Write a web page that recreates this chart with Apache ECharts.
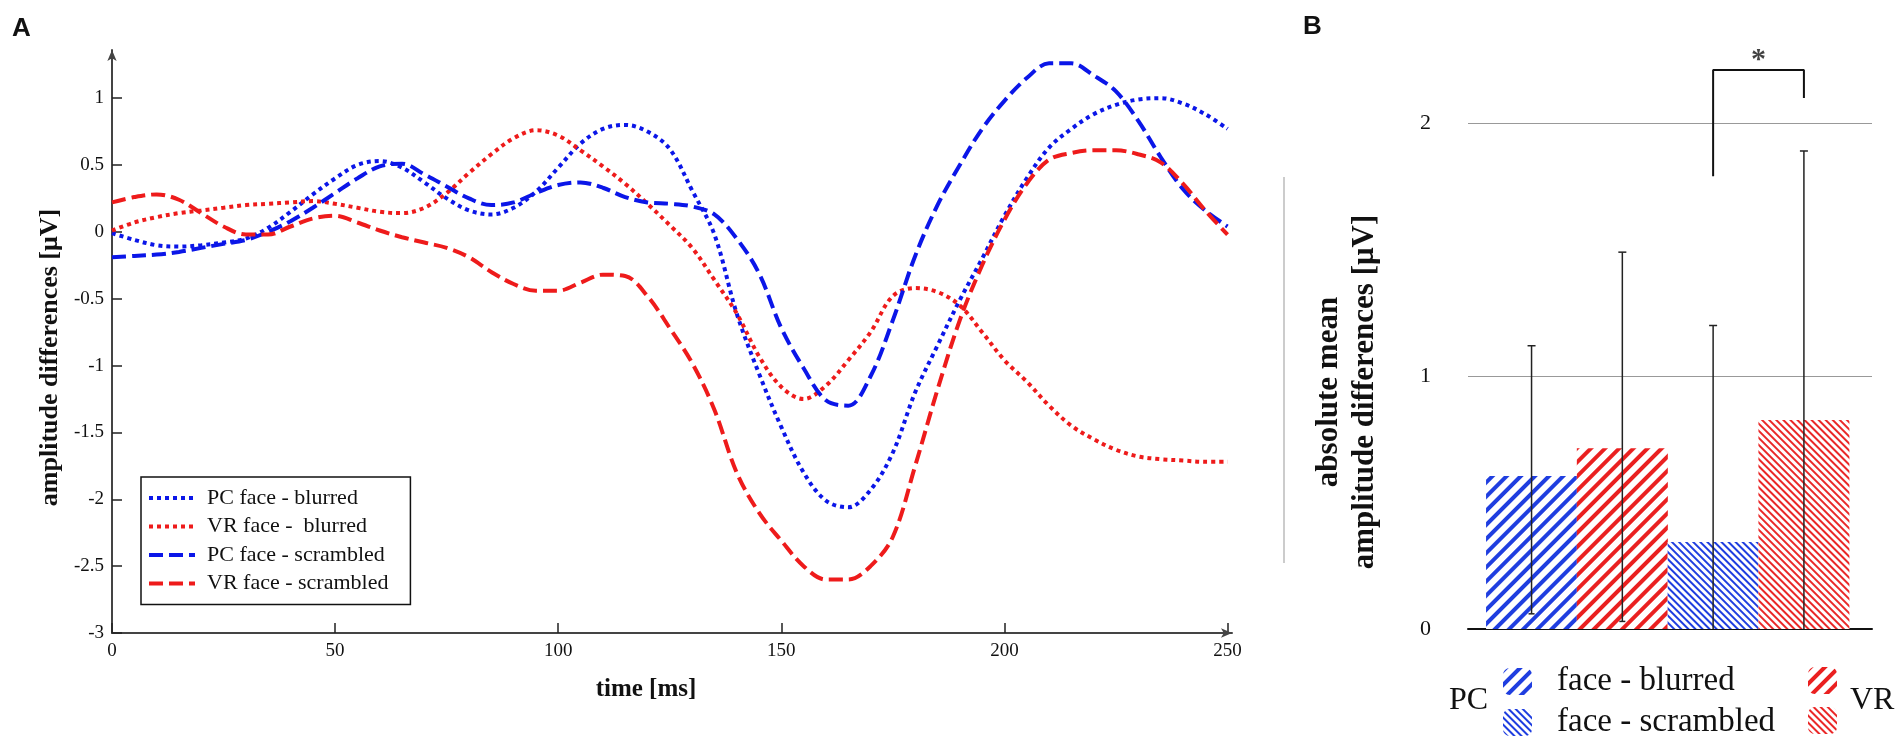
<!DOCTYPE html>
<html>
<head>
<meta charset="utf-8">
<title>ERP amplitude differences</title>
<script src="https://cdn.jsdelivr.net/npm/echarts@6/dist/echarts.min.js"></script>
<style>
html, body { margin: 0; padding: 0; background: #fff; }
#chart { width: 1904px; height: 746px; }
</style>
</head>
<body>
<div id="chart"></div>
<script>
// panel A: difference waves, one value every 5 ms
var timeMs = [0,5,10,15,20,25,30,35,40,45,50,55,60,65,70,75,80,85,90,95,100,105,110,115,120,125,
	130,135,140,145,150,155,160,165,170,175,180,185,190,195,200,205,210,215,220,225,230,235,240,245,250];
var pcBlurred = [-0.01,-0.06,-0.10,-0.11,-0.10,-0.08,-0.05,0.03,0.15,0.28,0.40,0.50,0.53,0.48,0.37,0.25,0.16,0.13,0.18,0.30,
	0.48,0.66,0.77,0.80,0.75,0.62,0.31,-0.02,-0.61,-1.06,-1.46,-1.80,-2.01,-2.06,-1.93,-1.65,-1.20,-0.85,-0.51,-0.20,
	0.12,0.40,0.63,0.77,0.88,0.95,0.99,1.00,0.96,0.88,0.77];
var vrBlurred = [0.01,0.07,0.11,0.14,0.16,0.18,0.20,0.21,0.22,0.23,0.21,0.18,0.15,0.14,0.18,0.29,0.44,0.58,0.70,0.76,
	0.72,0.61,0.49,0.36,0.21,0.05,-0.12,-0.36,-0.61,-0.93,-1.16,-1.25,-1.15,-0.96,-0.75,-0.48,-0.42,-0.45,-0.55,-0.75,
	-0.96,-1.12,-1.30,-1.45,-1.55,-1.63,-1.68,-1.70,-1.71,-1.72,-1.72];
var pcScrambled = [-0.19,-0.18,-0.17,-0.15,-0.12,-0.09,-0.06,0.00,0.08,0.18,0.29,0.40,0.49,0.51,0.43,0.34,0.25,0.20,0.22,0.29,
	0.35,0.37,0.33,0.26,0.22,0.21,0.19,0.13,-0.05,-0.31,-0.72,-1.02,-1.26,-1.30,-1.08,-0.66,-0.18,0.20,0.50,0.77,
	0.98,1.15,1.26,1.26,1.17,1.05,0.83,0.56,0.32,0.16,0.04];
var vrScrambled = [0.22,0.26,0.28,0.24,0.14,0.04,-0.02,-0.02,0.04,0.10,0.12,0.07,0.01,-0.04,-0.08,-0.12,-0.19,-0.30,-0.39,-0.44,
	-0.44,-0.38,-0.32,-0.33,-0.48,-0.72,-0.98,-1.33,-1.80,-2.10,-2.31,-2.50,-2.60,-2.60,-2.50,-2.28,-1.75,-1.18,-0.66,-0.25,
	0.09,0.36,0.54,0.59,0.61,0.61,0.58,0.52,0.36,0.16,-0.02];
var waveNames = ['PC face - blurred', 'VR face -  blurred', 'PC face - scrambled', 'VR face - scrambled'];
var timeTicks = [0,50,100,150,200,250];
var ampTicks = [-3,-2.5,-2,-1.5,-1,-0.5,0,0.5,1];

// panel B: absolute mean amplitude differences
var barNames = ['B PC face - blurred', 'B VR face - blurred', 'B PC face - scrambled', 'B VR face - scrambled'];
var barPos = [1, 2, 3, 4];
var barMeans = [0.605, 0.715, 0.344, 0.826];
var errLow = [0.06, 0.03, 0, 0];
var errHigh = [1.12, 1.49, 1.20, 1.89];
var bracketX = [3, 3, 4, 4];
var bracketY = [1.79, 2.21, 2.21, 2.10];
var starAt = [3.5, 2.25];

var BLUE = '#0b16e8';
var RED = '#ee1b1b';
var SERIF = 'Liberation Serif';

var myChart = echarts.init(document.getElementById('chart'));

function zip(xs, ys) {
	var out = [];
	for (var i = 0; i < xs.length; i++) out.push([xs[i], ys[i]]);
	return out;
}

var waveData = [pcBlurred, vrBlurred, pcScrambled, vrScrambled];
var waveColors = [BLUE, RED, BLUE, RED];
var waveDash = [[4, 4], [4, 4], [14, 6], [14, 6]];

var series = [];
for (var i = 0; i < waveData.length; i++) {
	series.push({
		type: 'line',
		name: waveNames[i],
		xAxisIndex: 0,
		yAxisIndex: 0,
		data: zip(timeMs, waveData[i]),
		smooth: 0.35,
		symbol: 'none',
		showSymbol: false,
		lineStyle: { color: waveColors[i], width: 4, type: waveDash[i], cap: 'butt' },
		itemStyle: { color: waveColors[i] },
		z: 3
	});
}

// hatch patterns for the bars
var barDecals = [
	{ color: '#1f3ee0', dashArrayY: [4, 6], rotation: -Math.PI / 4 },
	{ color: '#ea2020', dashArrayY: [4, 6], rotation: -Math.PI / 4 },
	{ color: '#1f3ee0', dashArrayY: [2, 3], rotation: Math.PI / 4 },
	{ color: '#ea2828', dashArrayY: [2, 3], rotation: Math.PI / 4 }
];
for (var j = 0; j < barNames.length; j++) {
	series.push({
		type: 'bar',
		name: barNames[j],
		xAxisIndex: 1,
		yAxisIndex: 1,
		data: [[barPos[j], barMeans[j]]],
		barWidth: 91,
		barGap: '-100%',
		itemStyle: {
			color: '#ffffff',
			decal: {
				symbol: 'rect',
				symbolSize: 1,
				color: barDecals[j].color,
				dashArrayX: [1, 0],
				dashArrayY: barDecals[j].dashArrayY,
				rotation: barDecals[j].rotation
			}
		},
		z: 2
	});
}

// error bars
var errData = [];
for (var k = 0; k < barPos.length; k++) errData.push([barPos[k], errLow[k], errHigh[k]]);
series.push({
	type: 'custom',
	name: 'sd',
	xAxisIndex: 1,
	yAxisIndex: 1,
	data: errData,
	encode: { x: 0, y: [1, 2] },
	silent: true,
	z: 4,
	renderItem: function(params, api) {
		var x = api.value(0);
		var lo = api.value(1);
		var top = api.coord([x, api.value(2)]);
		var bot = api.coord([x, lo]);
		var st = { stroke: '#222', lineWidth: 1.5 };
		var kids = [
			{ type: 'line', shape: { x1: top[0], y1: top[1], x2: bot[0], y2: bot[1] }, style: st },
			{ type: 'line', shape: { x1: top[0] - 4, y1: top[1], x2: top[0] + 4, y2: top[1] }, style: st }
		];
		if (lo > 0) {
			kids.push({ type: 'line', shape: { x1: bot[0] - 3, y1: bot[1], x2: bot[0] + 3, y2: bot[1] }, style: st });
		}
		return { type: 'group', children: kids };
	}
});

// significance bracket
series.push({
	type: 'line',
	name: 'bracket',
	xAxisIndex: 1,
	yAxisIndex: 1,
	data: zip(bracketX, bracketY),
	symbol: 'none',
	silent: true,
	lineStyle: { color: '#111', width: 2 },
	z: 5
});
series.push({
	type: 'scatter',
	name: 'star',
	xAxisIndex: 1,
	yAxisIndex: 1,
	data: [starAt],
	symbolSize: 2,
	itemStyle: { color: 'rgba(0,0,0,0)' },
	silent: true,
	z: 6,
	label: { show: true, position: 'inside', formatter: '*', fontFamily: SERIF, fontWeight: 'bold', fontSize: 30, color: '#111' }
});

var option = {
	animation: false,
	backgroundColor: '#fff',
	grid: [
		{ left: 112, top: 50, right: 672, bottom: 113 },
		{ left: 1468, top: 22, right: 32, bottom: 117 }
	],
	xAxis: [
		{
			gridIndex: 0, type: 'value', min: 0, max: 251,
			axisLine: { show: true, onZero: false, symbol: ['none', 'arrow'], symbolSize: [7, 11], lineStyle: { color: '#444', width: 2 } },
			axisTick: { show: true, inside: true, length: 10, customValues: timeTicks, lineStyle: { color: '#222', width: 1.5 } },
			axisLabel: { customValues: timeTicks, margin: 9, fontFamily: SERIF, fontSize: 19, color: '#111' },
			splitLine: { show: false },
			name: 'time [ms]', nameLocation: 'middle', nameGap: 44,
			nameTextStyle: { fontFamily: SERIF, fontWeight: 'bold', fontSize: 25, color: '#111', padding: [0, 52, 0, 0] }
		},
		{
			gridIndex: 1, type: 'value', min: 0.3, max: 4.75,
			axisLine: { show: true, onZero: false, lineStyle: { color: '#111', width: 2 } },
			axisTick: { show: false },
			axisLabel: { show: false },
			splitLine: { show: false }
		}
	],
	yAxis: [
		{
			gridIndex: 0, type: 'value', min: -3, max: 1.36,
			axisLine: { show: true, onZero: false, symbol: ['none', 'arrow'], symbolSize: [7, 11], lineStyle: { color: '#444', width: 2 } },
			axisTick: { show: true, inside: true, length: 10, customValues: ampTicks, lineStyle: { color: '#222', width: 1.5 } },
			axisLabel: { customValues: ampTicks, margin: 8, fontFamily: SERIF, fontSize: 19, color: '#111' },
			splitLine: { show: false },
			name: 'amplitude differences [μV]', nameLocation: 'middle', nameGap: 41,
			nameTextStyle: { fontFamily: SERIF, fontWeight: 'bold', fontSize: 26, color: '#111', padding: [0, 32, 0, 0] }
		},
		{
			gridIndex: 1, type: 'value', min: 0, max: 2.4, interval: 1,
			axisLine: { show: false },
			axisTick: { show: false },
			axisLabel: { margin: 37, showMaxLabel: false, fontFamily: SERIF, fontSize: 22, color: '#111' },
			splitLine: { show: true, showMinLine: false, showMaxLine: false, lineStyle: { color: '#999', width: 1.2 } },
			name: 'absolute mean\namplitude differences [μV]', nameLocation: 'middle', nameGap: 85,
			nameTextStyle: { fontFamily: SERIF, fontWeight: 'bold', fontSize: 31, lineHeight: 36, color: '#111', padding: [0, 133, 0, 0] }
		}
	],
	legend: [
		{
			data: waveNames,
			orient: 'vertical',
			left: 141, top: 477,
			padding: [9, 22, 9, 6],
			itemWidth: 46, itemHeight: 14, itemGap: 4.5,
			borderColor: '#111', borderWidth: 1.5,
			selectedMode: false,
			itemStyle: { opacity: 0 },
			lineStyle: { width: 4, opacity: 1 },
			textStyle: { fontFamily: SERIF, fontSize: 22, lineHeight: 24, color: '#111', padding: [0, 0, 0, 7] }
		},
		{
			data: [barNames[0], barNames[2]],
			orient: 'vertical',
			left: 1503, top: 665, width: 360, height: 100,
			padding: 0,
			itemWidth: 29, itemHeight: 27, itemGap: 8,
			selectedMode: false,
			formatter: function(name) { return name.replace('B PC ', ''); },
			textStyle: { fontFamily: SERIF, fontSize: 33, lineHeight: 27, color: '#111', padding: [0, 0, 0, 20] }
		},
		{
			data: [barNames[1], barNames[3]],
			orient: 'vertical',
			left: 1808, top: 667, height: 100,
			padding: 0,
			itemWidth: 29, itemHeight: 27, itemGap: 13,
			selectedMode: false,
			formatter: function(name) { return ''; },
			textStyle: { fontSize: 10, lineHeight: 27 }
		}
	],
	graphic: [
		{ type: 'text', left: 12, top: 16, style: { text: 'A', font: 'bold 26px "Liberation Sans"', fill: '#111' } },
		{ type: 'text', left: 1303, top: 14, style: { text: 'B', font: 'bold 26px "Liberation Sans"', fill: '#111' } },
		{ type: 'text', left: 1449, top: 685, style: { text: 'PC', font: '32px "Liberation Serif"', fill: '#111' } },
		{ type: 'text', left: 1850, top: 685, style: { text: 'VR', font: '32px "Liberation Serif"', fill: '#111' } },
		{ type: 'line', shape: { x1: 1284, y1: 177, x2: 1284, y2: 563 }, style: { stroke: '#bbb', lineWidth: 1.5 } }
	],
	series: series
};
myChart.setOption(option);
</script>
</body>
</html>
